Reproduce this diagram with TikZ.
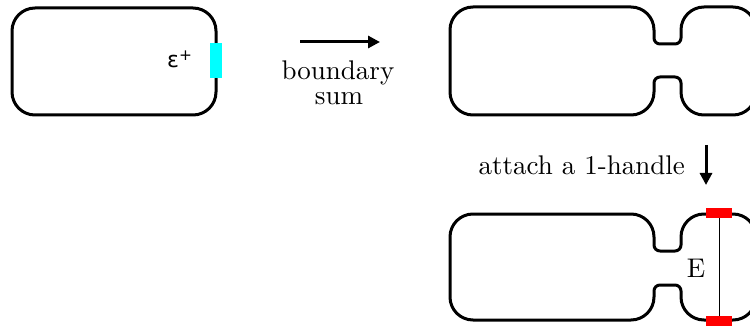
\documentclass[tikz,border=0pt]{standalone}
\usepackage{fontspec}
\newfontfamily\dejavu{DejaVu Sans}
\newfontfamily\lmten[Extension=.otf]{lmroman10-regular}
\usetikzlibrary{arrows.meta}
\definecolor{capcyan}{RGB}{0,255,255}
\definecolor{capred}{RGB}{255,0,0}
\newcommand\blobshape[4]{% #1 top, #2 bottom, #3 upper neck, #4 lower neck
  \draw[outline] (473,#1) -- (631,#1)
    arc[start angle=270,end angle=360,radius=23] -- (654,{#3-6})
    arc[start angle=180,end angle=90,radius=6] -- (675,#3)
    arc[start angle=90,end angle=0,radius=6] -- (681,{#1+23})
    arc[start angle=180,end angle=270,radius=23] -- (733,#1)
    arc[start angle=270,end angle=360,radius=23] -- (756,{#2-23})
    arc[start angle=0,end angle=90,radius=23] -- (704,#2)
    arc[start angle=90,end angle=180,radius=23] -- (681,{#4+6})
    arc[start angle=0,end angle=-90,radius=6] -- (660,#4)
    arc[start angle=270,end angle=180,radius=6] -- (654,{#2-23})
    arc[start angle=0,end angle=90,radius=23] -- (473,#2)
    arc[start angle=90,end angle=180,radius=23] -- (450,{#1+23})
    arc[start angle=180,end angle=270,radius=23] -- cycle;}
\begin{document}
\begin{tikzpicture}[x=1pt,y=-1pt,
  outline/.style={line width=3pt, line join=round},
  bigarrow/.style={line width=3pt, -{Triangle[length=12pt,width=12pt]}},
  txt/.style={inner sep=0pt, font=\lmten\fontsize{27}{32}\selectfont},
  redcap/.style={fill=capred, inner sep=0pt, minimum width=26pt, minimum height=10pt}]
\useasboundingbox (0,0) rectangle (750,326);
% left rounded rectangle
\draw[outline, rounded corners=23pt] (12,8) rectangle (216,115);
\fill[capcyan] (210,43) rectangle (222,78);
\node[inner sep=0pt, anchor=base west, font=\dejavu\fontsize{22}{26}\selectfont] (eps) at (167,68) {ε\textsuperscript{+}};
% arrow: boundary sum
\coordinate (a1s) at (300,42);
\coordinate (a1e) at (380,42);
\draw[bigarrow] (a1s) -- (a1e);
\node[txt, anchor=base] (bd) at (338,80) {boundary};
\node[txt, anchor=base] (sm) at (339,105) {sum};
% top right shape
\blobshape{7}{115}{44}{77}
% arrow: attach a 1-handle
\coordinate (a2s) at (706,145);
\coordinate (a2e) at (706,185);
\draw[bigarrow] (a2s) -- (a2e);
\node[txt, anchor=base east] (att) at (685,175) {attach a 1-handle};
% bottom right shape
\blobshape{214}{320}{251}{285}
\node[redcap] (rt) at (719,213) {};
\node[redcap] (rb) at (719,321) {};
\draw[line width=1pt] (rt.south) -- (rb.north);
\node[txt, anchor=base] (E) at (696,277) {E};
\end{tikzpicture}
\end{document}
